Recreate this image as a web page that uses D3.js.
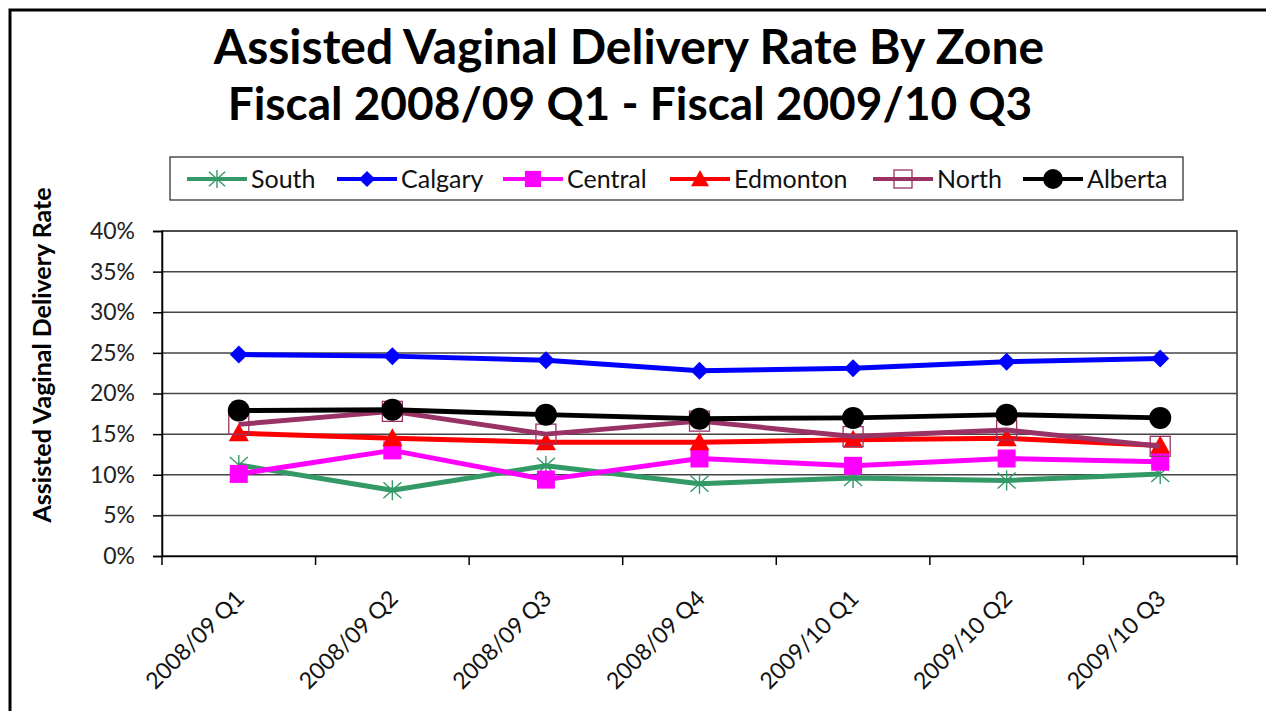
<!DOCTYPE html>
<html>
<head>
<meta charset="utf-8">
<script src="https://cdn.jsdelivr.net/npm/d3@7"></script>
<style>
  body { margin: 0; background: #fff; }
  svg { display: block; font-family: Lato, 'Open Sans', sans-serif; }
</style>
</head>
<body>
<div id="chart"></div>
<script>
const categories = ['2008/09 Q1', '2008/09 Q2', '2008/09 Q3', '2008/09 Q4', '2009/10 Q1', '2009/10 Q2', '2009/10 Q3']
const south = [0.112, 0.081, 0.111, 0.089, 0.096, 0.093, 0.101]
const calgary = [0.248, 0.246, 0.241, 0.228, 0.231, 0.239, 0.243]
const central = [0.101, 0.130, 0.094, 0.120, 0.111, 0.120, 0.116]
const edmonton = [0.151, 0.145, 0.140, 0.140, 0.143, 0.145, 0.136]
const north = [0.162, 0.178, 0.150, 0.166, 0.147, 0.155, 0.135]
const alberta = [0.179, 0.180, 0.174, 0.169, 0.170, 0.174, 0.170]
const yTicks = [0, 0.05, 0.1, 0.15, 0.2, 0.25, 0.3, 0.35, 0.4]

const series = [
  { name: 'South', values: south, color: '#339966', marker: 'star' },
  { name: 'Calgary', values: calgary, color: '#0000ff', marker: 'diamond' },
  { name: 'Central', values: central, color: '#ff00ff', marker: 'square' },
  { name: 'Edmonton', values: edmonton, color: '#ff0000', marker: 'triangle' },
  { name: 'North', values: north, color: '#993366', marker: 'box' },
  { name: 'Alberta', values: alberta, color: '#000000', marker: 'circle' }
]

const width = 1266
const height = 711
const margin = { top: 231, right: 29, bottom: 155, left: 162 }

const svg = d3.select('#chart')
  .append('svg')
  .attr('width', width)
  .attr('height', height)

// outer frame (only top/left visible in the picture)
svg.append('rect')
  .attr('x', 10).attr('y', 10)
  .attr('width', width + 20).attr('height', height + 20)
  .attr('fill', '#fff')
  .attr('stroke', '#000')
  .attr('stroke-width', 3)

const xScale = d3.scaleBand()
  .domain(categories)
  .range([margin.left, width - margin.right])

const yScale = d3.scaleLinear()
  .domain([0, 0.4])
  .range([height - margin.bottom, margin.top])

// title
svg.append('text')
  .attr('x', 629).attr('y', 64)
  .attr('text-anchor', 'middle')
  .attr('font-size', 48).attr('font-weight', 'bold')
  .text('Assisted Vaginal Delivery Rate By Zone')
svg.append('text')
  .attr('x', 630).attr('y', 120)
  .attr('text-anchor', 'middle')
  .attr('font-size', 46).attr('font-weight', 'bold')
  .text('Fiscal 2008/09 Q1 - Fiscal 2009/10 Q3')

// plot frame + grid
const plot = svg.append('g')
plot.append('rect')
  .attr('x', margin.left).attr('y', margin.top)
  .attr('width', width - margin.right - margin.left)
  .attr('height', height - margin.bottom - margin.top)
  .attr('fill', '#fff')
  .attr('stroke', '#333').attr('stroke-width', 1.5)

plot.append('g')
  .selectAll('line')
  .data(yTicks.slice(1))
  .join('line')
  .attr('x1', margin.left).attr('x2', width - margin.right)
  .attr('y1', d => yScale(d)).attr('y2', d => yScale(d))
  .attr('stroke', '#444').attr('stroke-width', 1.5)

const yAxis = g => g
  .attr('transform', `translate(${margin.left},0)`)
  .call(d3.axisLeft(yScale).tickValues(yTicks).tickFormat(d3.format('.0%')).tickSize(9).tickPadding(18))
  .call(g => g.select('.domain').attr('stroke', '#000').attr('stroke-width', 1.5))
  .call(g => g.selectAll('.tick line').attr('stroke', '#000').attr('stroke-width', 1.5))
  .call(g => g.selectAll('.tick text').attr('font-size', 23).attr('fill', '#222').attr('font-family', 'Lato, sans-serif'))

const xAxis = g => g
  .attr('transform', `translate(0,${height - margin.bottom})`)
  .call(d3.axisBottom(xScale).tickSize(0).tickFormat(d => d))
  .call(g => g.select('.domain').attr('stroke', '#000').attr('stroke-width', 1.5))
  .call(g => g.selectAll('.tick text')
    .attr('font-size', 23).attr('fill', '#111').attr('font-family', 'Lato, sans-serif')
    .attr('text-anchor', 'end')
    .attr('y', 0).attr('dy', 0)
    .attr('transform', 'translate(7,44) rotate(-45)'))

svg.append('g').call(yAxis)
svg.append('g').call(xAxis)

// category boundary ticks below axis
svg.append('g')
  .selectAll('line')
  .data(categories)
  .join('line')
  .attr('x1', d => xScale(d)).attr('x2', d => xScale(d))
  .attr('y1', yScale(0)).attr('y2', yScale(0) + 9)
  .attr('stroke', '#000').attr('stroke-width', 1.5)
svg.append('line')
  .attr('x1', width - margin.right).attr('x2', width - margin.right)
  .attr('y1', yScale(0)).attr('y2', yScale(0) + 9)
  .attr('stroke', '#000').attr('stroke-width', 1.5)

// y axis title
svg.append('text')
  .attr('transform', 'translate(51,355) rotate(-90)')
  .attr('text-anchor', 'middle')
  .attr('font-size', 25).attr('font-weight', 'bold')
  .text('Assisted Vaginal Delivery Rate')

function drawMarker(g, type, color, k = 1) {
  if (type === 'star') {
    g.append('path')
      .attr('d', `M0,${-10 * k}L0,${10 * k}M${-9 * k},${-8 * k}L${9 * k},${8 * k}M${-9 * k},${8 * k}L${9 * k},${-8 * k}`)
      .attr('stroke', color).attr('stroke-width', 1.4).attr('fill', 'none')
  } else if (type === 'diamond') {
    g.append('path').attr('d', `M0,${-9 * k}L${9 * k},0L0,${9 * k}L${-9 * k},0Z`).attr('fill', color)
  } else if (type === 'square') {
    g.append('rect').attr('x', -9 * k).attr('y', -9 * k).attr('width', 18 * k).attr('height', 18 * k).attr('fill', color)
  } else if (type === 'triangle') {
    g.append('path').attr('d', `M0,${-10 * k}L${10 * k},${8 * k}L${-10 * k},${8 * k}Z`).attr('fill', color)
  } else if (type === 'box') {
    g.append('rect').attr('x', -10 * k).attr('y', -10 * k).attr('width', 20 * k).attr('height', 20 * k)
      .attr('fill', 'none').attr('stroke', color).attr('stroke-width', 1.3)
  } else if (type === 'circle') {
    g.append('circle').attr('r', 11 * k).attr('fill', color)
  }
}

const line = d3.line()
  .x((d, i) => xScale(categories[i]) + xScale.bandwidth() / 2)
  .y(d => yScale(d))

const seriesG = svg.append('g')
series.forEach(s => {
  const g = seriesG.append('g')
  g.append('path')
    .attr('d', line(s.values))
    .attr('fill', 'none')
    .attr('stroke', s.color)
    .attr('stroke-width', 5)
    .attr('stroke-linejoin', 'round')
  s.values.forEach((v, i) => {
    const m = g.append('g')
      .attr('transform', `translate(${xScale(categories[i]) + xScale.bandwidth() / 2},${yScale(v)})`)
    drawMarker(m, s.marker, s.color)
  })
})

// legend
const legend = svg.append('g')
legend.append('rect')
  .attr('x', 170).attr('y', 157)
  .attr('width', 1013).attr('height', 43)
  .attr('fill', '#fff').attr('stroke', '#333').attr('stroke-width', 1.3)

const legendX = [187, 337, 503, 670, 873, 1023]
series.forEach((s, i) => {
  const g = legend.append('g').attr('transform', `translate(${legendX[i]},179)`)
  g.append('line')
    .attr('x1', 0).attr('x2', 60)
    .attr('stroke', s.color).attr('stroke-width', 4)
  const m = g.append('g').attr('transform', 'translate(30,0)')
  drawMarker(m, s.marker, s.color, 0.9)
  g.append('text')
    .attr('x', 64).attr('y', 0).attr('dy', '0.35em')
    .attr('font-size', 25).attr('fill', '#111')
    .text(s.name)
})
</script>
</body>
</html>
